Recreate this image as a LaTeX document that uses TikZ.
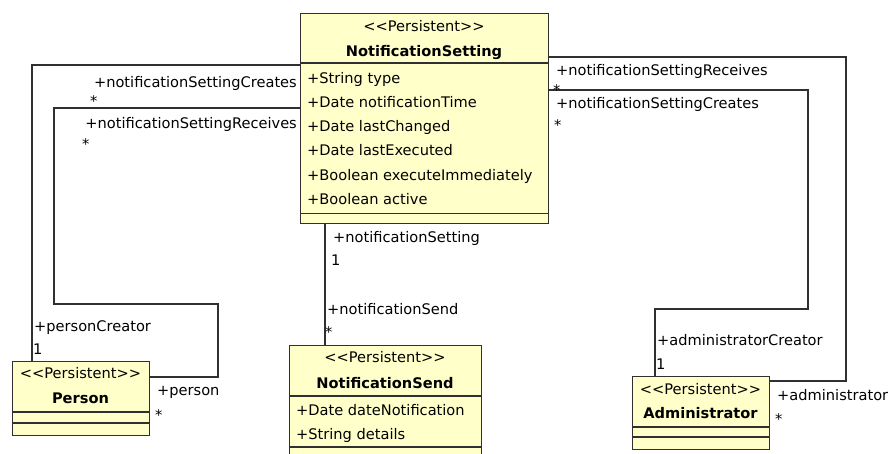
\documentclass[tikz,border=0pt]{standalone}
\usepackage{fontspec}
\setmainfont{DejaVu Sans}
\usetikzlibrary{calc}
\definecolor{clsfill}{HTML}{FFFFCA}
\definecolor{clsline}{HTML}{303030}
\begin{document}
\begin{tikzpicture}[x=1pt,y=-1pt,
	every node/.style={font=\fontsize{14.6}{17}\selectfont, inner sep=0pt},
	cls/.style={draw=clsline, fill=clsfill, line width=1.3pt, anchor=north west},
	clsname/.style={anchor=base, font=\fontsize{14.6}{17}\selectfont\bfseries},
	stereo/.style={anchor=base},
	lbl/.style={anchor=base west},
	conn/.style={draw=clsline, line width=1.1pt}]
			\clip (0,0) rectangle (888,453);
			
			% classes
			\node[cls, minimum width=248, minimum height=210] (ns) at (300,13) {};
			\draw[clsline, line width=1.3pt] ([yshift=-50pt]ns.north west) -- ([yshift=-50pt]ns.north east);
			\draw[clsline, line width=1.3pt] ([yshift=11pt]ns.south west) -- ([yshift=11pt]ns.south east);
			\node[stereo] (ns-st) at (424,31) {<\kern0pt<Persistent>\kern0pt>};
			\node[clsname] (ns-nm) at (424,56) {NotificationSetting};
			\node[lbl] (ns-a1) at (307,83) {+String type};
			\node[lbl] (ns-a2) at (307,107.3) {+Date notificationTime};
			\node[lbl] (ns-a3) at (307,131.6) {+Date lastChanged};
			\node[lbl] (ns-a4) at (307,155.9) {+Date lastExecuted};
			\node[lbl] (ns-a5) at (307,180.2) {+Boolean executeImmediately};
			\node[lbl] (ns-a6) at (307,204.5) {+Boolean active};
			
			\node[cls, minimum width=192, minimum height=113] (nsend) at (289,345) {};
			\draw[clsline, line width=1.3pt] ([yshift=-51pt]nsend.north west) -- ([yshift=-51pt]nsend.north east);
			\draw[clsline, line width=1.3pt] ([yshift=-102pt]nsend.north west) -- ([yshift=-102pt]nsend.north east);
			\node[stereo] (nsend-st) at (385,362) {<\kern0pt<Persistent>\kern0pt>};
			\node[clsname] (nsend-nm) at (385,388) {NotificationSend};
			\node[lbl] (nsend-a1) at (296,415) {+Date dateNotification};
			\node[lbl] (nsend-a2) at (296,439.5) {+String details};
			
			\node[cls, minimum width=137, minimum height=74] (person) at (12,361) {};
			\draw[clsline, line width=1.3pt] ([yshift=-51pt]person.north west) -- ([yshift=-51pt]person.north east);
			\draw[clsline, line width=1.3pt] ([yshift=-62pt]person.north west) -- ([yshift=-62pt]person.north east);
			\node[stereo] (person-st) at (80.5,378) {<\kern0pt<Persistent>\kern0pt>};
			\node[clsname] (person-nm) at (80.5,403) {Person};
			
			\node[cls, minimum width=137, minimum height=73] (admin) at (632,376) {};
			\draw[clsline, line width=1.3pt] ([yshift=-51pt]admin.north west) -- ([yshift=-51pt]admin.north east);
			\draw[clsline, line width=1.3pt] ([yshift=-61pt]admin.north west) -- ([yshift=-61pt]admin.north east);
			\node[stereo] (admin-st) at (700.5,394) {<\kern0pt<Persistent>\kern0pt>};
			\node[clsname] (admin-nm) at (700.5,418) {Administrator};
			
			% associations
			\draw[conn] ([yshift=-52pt]ns.north west) -| ([xshift=20pt]person.north west);
			\draw[conn] ([yshift=-95pt]ns.north west) -| (54,304) -| (218,377) -- ([yshift=-16pt]person.north east);
			\draw[conn] ([yshift=-44pt]ns.north east) -| (846,381) -- ([yshift=-5pt]admin.north east);
			\draw[conn] ([yshift=-77pt]ns.north east) -| (808,309) -| ([xshift=23pt]admin.north west);
			\draw[conn] ([xshift=25pt]ns.south west) -- ([xshift=36pt]nsend.north west);
			
			% role names and multiplicities
			\node[anchor=base east] (r-nscl) at (297,87) {+notificationSettingCreates};
			\node[lbl] (m-nscl) at (90,106) {*};
			\node[anchor=base east] (r-nsrl) at (297,128) {+notificationSettingReceives};
			\node[lbl] (m-nsrl) at (82,149) {*};
			\node[lbl] (r-nsrr) at (556,75) {+notificationSettingReceives};
			\node[lbl] (m-nsrr) at (553,95) {*};
			\node[lbl] (r-nscr) at (556,108) {+notificationSettingCreates};
			\node[lbl] (m-nscr) at (554,130) {*};
			\node[lbl] (r-ns) at (333,242) {+notificationSetting};
			\node[lbl] (m-ns) at (331,265) {1};
			\node[lbl] (r-nsend) at (327,314) {+notificationSend};
			\node[lbl] (m-nsend) at (325,337) {*};
			\node[lbl] (r-pc) at (34,331) {+personCreator};
			\node[lbl] (m-pc) at (33,354) {1};
			\node[lbl] (r-p) at (157,395) {+person};
			\node[lbl] (m-p) at (155,420) {*};
			\node[lbl] (r-ac) at (657,345) {+administratorCreator};
			\node[lbl] (m-ac) at (656,369) {1};
			\node[lbl] (r-a) at (777,400) {+administrator};
			\node[lbl] (m-a) at (775,424) {*};
\end{tikzpicture}
\end{document}
